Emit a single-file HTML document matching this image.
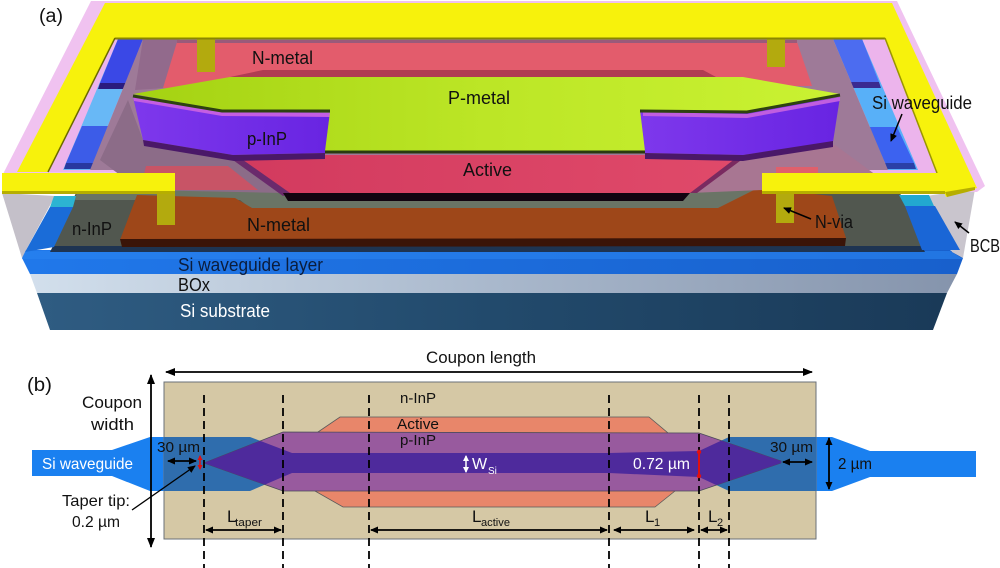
<!DOCTYPE html>
<html><head><meta charset="utf-8"><style>
html,body{margin:0;padding:0;background:#fff;width:1000px;height:568px;overflow:hidden;}
svg{display:block;}
text{font-family:"Liberation Sans",sans-serif;}
</style></head><body>
<svg width="1000" height="568" viewBox="0 0 1000 568" xmlns="http://www.w3.org/2000/svg">
<defs>
 <linearGradient id="gSub" x1="0" y1="0" x2="1" y2="0">
  <stop offset="0" stop-color="#2f5c82"/><stop offset="0.5" stop-color="#224a6c"/><stop offset="1" stop-color="#1a3a58"/>
 </linearGradient>
 <linearGradient id="gBox" x1="0" y1="0" x2="1" y2="0">
  <stop offset="0" stop-color="#d2dfec"/><stop offset="0.5" stop-color="#a9b8cc"/><stop offset="1" stop-color="#8594ac"/>
 </linearGradient>
 <linearGradient id="gSi" x1="0" y1="0" x2="1" y2="0">
  <stop offset="0" stop-color="#2078ea"/><stop offset="1" stop-color="#1860cc"/>
 </linearGradient>
 <linearGradient id="gPm" x1="0" y1="0" x2="1" y2="0">
  <stop offset="0" stop-color="#a4d212"/><stop offset="0.5" stop-color="#bce626"/><stop offset="1" stop-color="#caf232"/>
 </linearGradient>
 <linearGradient id="gAct" x1="0" y1="0" x2="1" y2="0">
  <stop offset="0" stop-color="#d23a5e"/><stop offset="1" stop-color="#e04a6a"/>
 </linearGradient>
 <linearGradient id="gPinP" x1="0" y1="0" x2="1" y2="0">
  <stop offset="0" stop-color="#7e38ec"/><stop offset="1" stop-color="#6824e2"/>
 </linearGradient>
 <marker id="ah" markerWidth="10" markerHeight="8" refX="9" refY="4" orient="auto-start-reverse" markerUnits="userSpaceOnUse">
  <path d="M0,0 L10,4 L0,8 z" fill="#000"/>
 </marker>
 <marker id="ahs" markerWidth="8" markerHeight="7" refX="7" refY="3.5" orient="auto-start-reverse" markerUnits="userSpaceOnUse">
  <path d="M0,0 L8,3.5 L0,7 z" fill="#000"/>
 </marker>
 <marker id="ahw" markerWidth="6" markerHeight="6" refX="5" refY="3" orient="auto-start-reverse" markerUnits="userSpaceOnUse">
  <path d="M0,0 L6,3 L0,6 z" fill="#fff"/>
 </marker>
 <marker id="ahr" markerWidth="5" markerHeight="5" refX="4" refY="2.5" orient="auto-start-reverse" markerUnits="userSpaceOnUse">
  <path d="M0,0 L5,2.5 L0,5 z" fill="#e01010"/>
 </marker>
 <clipPath id="cCoupon"><rect x="164" y="382" width="652" height="157"/></clipPath>
 <clipPath id="cSi"><polygon points="32,450 112,450 150,437 250,437 292,453 609,453 699,451 729,437 832,437 870,451 976,451 976,477 870,477 832,491 729,491 699,477 609,473 292,473 250,491 150,491 112,476 32,476"/></clipPath>
</defs>

<!-- ================= (a) ================= -->
<polygon points="37,293 947,293 933,330 50,330" fill="url(#gSub)"/>
<polygon points="30,274 957,274 947,293 37,293" fill="url(#gBox)"/>
<polygon points="22,258 25,250 950,250 963,258 957,274 30,274" fill="url(#gSi)"/>
<polygon points="25,251 950,251 963,259 22,259" fill="#2a84f0" opacity="0.6"/>

<polygon points="2,193 55,196 25,252 22,258" fill="#c4c0c9"/>
<polygon points="926,196 975,189 963,258 952,252" fill="#c9c5cd"/>

<polygon points="78,188 898,188 922,247 53,247" fill="#51574f"/>
<polygon points="150,188 770,188 730,208 250,208 240,200 75,200 78,188" fill="#6a7466"/>
<polygon points="53,246 922,246 925,252 50,252" fill="#1e3452"/>

<polygon points="54,196 76,196 73,207 50,207" fill="#2cb4d2"/>
<polygon points="50,207 73,207 54,247 25,252" fill="#1a6cd8"/>
<polygon points="899,195 929,195 934,206 905,206" fill="#22a8d0"/>
<polygon points="905,206 935,206 960,250 922,250" fill="#1a66d6"/>

<polygon points="137,195 235,198 252,208 718,208 758,188 832,196 846,238 120,240" fill="#9e4719"/>
<polygon points="120,239 846,238 845,246 122,247" fill="#3a1408"/>

<polygon points="91,1 897,1 985,186 977,192 2,176" fill="#f0c2f0"/>
<polygon points="115,38 885,38 937,173 48,172" fill="#ecb4ec"/>

<polygon points="118,39 143,39 90,170 63,170" fill="#68b8f6"/>
<polygon points="118,39 143,39 126,83 100,83" fill="#3a48e6"/>
<polygon points="100,83 126,83 124,89 98,89" fill="#2a1c7e"/>
<polygon points="82,126 108,126 94,163 66,163" fill="#3c5ce8"/>
<polygon points="66,163 94,163 92,169 64,169" fill="#2838a0"/>

<polygon points="833,39 862,39 918,170 888,170" fill="#58b0f8"/>
<polygon points="833,39 862,39 879,82 851,82" fill="#4c6cf0"/>
<polygon points="851,82 879,82 881,88 853,88" fill="#3a2a90"/>
<polygon points="869,127 897,127 914,163 885,163" fill="#3c62f0"/>
<polygon points="885,163 914,163 916,169 887,169" fill="#2a40a8"/>

<polygon points="143,39 833,39 888,170 90,170" fill="#9e7a98"/>
<polygon points="143,39 180,39 165,88 135,90" fill="#926a8c"/>
<polygon points="128,100 143,140 230,157 283,193 140,190 100,160" fill="#8c6c88"/>
<polygon points="690,193 745,155 835,145 880,178 762,190" fill="#a87692"/>
<polygon points="146,166 228,166 258,190 140,190" fill="#c85466"/>
<polygon points="776,167 818,167 818,175 776,175" fill="#e0606c"/>

<polygon points="177,42 797,42 812,86 163,88" fill="#e35c6c"/>
<polygon points="177,40 797,40 797,43 177,43" fill="#9a5a7a"/>
<polygon points="263,70 703,70 716,77 230,77" fill="#b03c52"/>

<rect x="197" y="38" width="18" height="34" fill="#b3aa0e"/>
<rect x="767" y="38" width="18" height="29" fill="#b3aa0e"/>

<polygon points="228,155 745,155 690,193 283,193" fill="url(#gAct)"/>
<polygon points="226,155 236,155 290,193 283,196" fill="#6a2a6c"/>
<polygon points="740,155 748,155 697,193 690,193" fill="#7a2a60"/>
<polygon points="283,193 690,193 683,201 288,201" fill="#120410"/>

<polygon points="133,97 222,112 330,113 325,153 233,155 143,140" fill="url(#gPinP)"/>
<polygon points="133,97 222,112 330,113 330,117 222,116 134,101" fill="#c45ee2"/>
<polygon points="143,140 233,155 325,153 325,159 234,161 144,146" fill="#4a1868"/>
<polygon points="640,110 747,112 840,97 833,142 743,155 645,153" fill="url(#gPinP)"/>
<polygon points="643,112 747,114 840,97 840,101 747,118 643,116" fill="#c05ee0"/>
<polygon points="645,153 743,155 833,141 833,147 743,161 645,159" fill="#4a1868"/>

<polygon points="133,94 230,77 743,77 840,94 747,111 640,110 645,151 325,151 330,112 222,110" fill="url(#gPm)"/>
<polyline points="133,96 222,111 330,111" fill="none" stroke="#2e4210" stroke-width="3"/>
<polyline points="640,111 747,112 840,95" fill="none" stroke="#2e4210" stroke-width="3"/>
<line x1="325" y1="152" x2="645" y2="152" stroke="#2a3a10" stroke-width="3"/>

<polygon points="105,3 892,3 977,188 946,197 937,173 885,38 115,38 48,172 17,172" fill="#f7f20c"/>
<line x1="115" y1="38.5" x2="885" y2="38.5" stroke="#8a8600" stroke-width="2"/>
<line x1="115" y1="38" x2="48" y2="172" stroke="#6c6a00" stroke-width="1.5"/>
<line x1="885" y1="38" x2="937" y2="173" stroke="#9a9600" stroke-width="1.5"/>

<rect x="2" y="173" width="173" height="19" fill="#f7f20c"/>
<rect x="2" y="191" width="173" height="3" fill="#b6ae00"/>
<rect x="762" y="173" width="183" height="19" fill="#f7f20c"/>
<rect x="762" y="191" width="183" height="3" fill="#b6ae00"/>
<polygon points="945,192 975,187 975,190 947,197" fill="#b6ae00"/>

<rect x="157" y="194" width="18" height="31" fill="#b3aa0e"/>
<rect x="776" y="194" width="18" height="29" fill="#b3aa0e"/>

<text x="39" y="22" font-size="19" textLength="24" lengthAdjust="spacingAndGlyphs" fill="#111">(a)</text>
<text x="252" y="64" font-size="18" textLength="61" lengthAdjust="spacingAndGlyphs" fill="#111">N-metal</text>
<text x="448" y="104" font-size="18" textLength="62" lengthAdjust="spacingAndGlyphs" fill="#111">P-metal</text>
<text x="247" y="145" font-size="18" textLength="40" lengthAdjust="spacingAndGlyphs" fill="#111">p-InP</text>
<text x="463" y="176" font-size="18" textLength="49" lengthAdjust="spacingAndGlyphs" fill="#111">Active</text>
<text x="247" y="231" font-size="18" textLength="63" lengthAdjust="spacingAndGlyphs" fill="#111">N-metal</text>
<text x="72" y="235" font-size="18" textLength="40" lengthAdjust="spacingAndGlyphs" fill="#111">n-InP</text>
<text x="178" y="271" font-size="18" textLength="145" lengthAdjust="spacingAndGlyphs" fill="#0b1d3c">Si waveguide layer</text>
<text x="178" y="291" font-size="18" textLength="32" lengthAdjust="spacingAndGlyphs" fill="#111">BOx</text>
<text x="180" y="317" font-size="18" textLength="90" lengthAdjust="spacingAndGlyphs" fill="#fff">Si substrate</text>
<text x="872" y="109" font-size="18" textLength="100" lengthAdjust="spacingAndGlyphs" fill="#111">Si waveguide</text>
<line x1="902" y1="114" x2="891" y2="141" stroke="#000" stroke-width="1.5" marker-end="url(#ahs)"/>
<text x="815" y="228" font-size="18" textLength="38" lengthAdjust="spacingAndGlyphs" fill="#111">N-via</text>
<line x1="811" y1="219" x2="784" y2="208" stroke="#000" stroke-width="1.5" marker-end="url(#ahs)"/>
<text x="970" y="252" font-size="18" textLength="30" lengthAdjust="spacingAndGlyphs" fill="#111">BCB</text>
<line x1="969" y1="233" x2="955" y2="222" stroke="#000" stroke-width="1.5" marker-end="url(#ahs)"/>

<!-- ================= (b) ================= -->
<polygon points="32,450 112,450 150,437 250,437 292,453 609,453 699,451 729,437 832,437 870,451 976,451 976,477 870,477 832,491 729,491 699,477 609,473 292,473 250,491 150,491 112,476 32,476" fill="#1a80f0"/>
<rect x="164" y="382" width="652" height="157" fill="#d5c8a5" stroke="#6a7078" stroke-width="1"/>
<g clip-path="url(#cCoupon)">
 <polygon points="32,450 112,450 150,437 250,437 292,453 609,453 699,451 729,437 832,437 870,451 976,451 976,477 870,477 832,491 729,491 699,477 609,473 292,473 250,491 150,491 112,476 32,476" fill="#2f6dad"/>
</g>
<polygon points="318,432 340,417 649,417 668,433 675,491 655,507 343,507 315,491" fill="#e8866a" stroke="#5a5a5a" stroke-width="0.8"/>
<polygon points="204,463 283,432 699,433 781,461 781,463 699,491 283,491" fill="#985a9e" stroke="#4a4a5a" stroke-width="0.8"/>
<g clip-path="url(#cSi)">
 <polygon points="204,463 283,432 699,433 781,461 781,463 699,491 283,491" fill="#4e2a9c"/>
</g>

<g stroke="#000" stroke-width="1.8" stroke-dasharray="8,5">
 <line x1="204" y1="395" x2="204" y2="568"/>
 <line x1="283" y1="395" x2="283" y2="568"/>
 <line x1="369" y1="395" x2="369" y2="568"/>
 <line x1="609" y1="395" x2="609" y2="568"/>
 <line x1="699" y1="395" x2="699" y2="568"/>
 <line x1="729" y1="395" x2="729" y2="568"/>
</g>

<g stroke="#000" stroke-width="1.8" fill="none">
 <line x1="166" y1="372" x2="812" y2="372" marker-start="url(#ah)" marker-end="url(#ah)"/>
 <line x1="151" y1="375" x2="151" y2="547" marker-start="url(#ah)" marker-end="url(#ah)"/>
 <line x1="168" y1="461" x2="196" y2="461" marker-start="url(#ahs)" marker-end="url(#ahs)"/>
 <line x1="783" y1="462" x2="812" y2="462" marker-start="url(#ahs)" marker-end="url(#ahs)"/>
 <line x1="829" y1="438" x2="829" y2="489" marker-start="url(#ahs)" marker-end="url(#ahs)"/>
 <line x1="206" y1="530" x2="281" y2="530" marker-start="url(#ahs)" marker-end="url(#ahs)"/>
 <line x1="371" y1="530" x2="607" y2="530" marker-start="url(#ahs)" marker-end="url(#ahs)"/>
 <line x1="614" y1="530" x2="694" y2="530" marker-start="url(#ahs)" marker-end="url(#ahs)"/>
 <line x1="701" y1="530" x2="727" y2="530" marker-start="url(#ahs)" marker-end="url(#ahs)"/>
 <line x1="132" y1="510" x2="195" y2="466" stroke-width="1.3" marker-end="url(#ahs)"/>
</g>
<line x1="200" y1="456" x2="200" y2="469" stroke="#e01010" stroke-width="1.5" marker-start="url(#ahr)" marker-end="url(#ahr)"/>
<line x1="699" y1="452" x2="699" y2="476" stroke="#e01010" stroke-width="2"/>
<circle cx="699" cy="452" r="2.2" fill="#e01010"/>
<circle cx="699" cy="476" r="2.2" fill="#e01010"/>
<line x1="466" y1="456" x2="466" y2="472" stroke="#fff" stroke-width="1.5" marker-start="url(#ahw)" marker-end="url(#ahw)"/>

<text x="27" y="391" font-size="19" textLength="25" lengthAdjust="spacingAndGlyphs" fill="#111">(b)</text>
<text x="82" y="408" font-size="17" textLength="60" lengthAdjust="spacingAndGlyphs" fill="#111">Coupon</text>
<text x="91" y="430" font-size="17" textLength="43" lengthAdjust="spacingAndGlyphs" fill="#111">width</text>
<text x="426" y="363" font-size="17" textLength="110" lengthAdjust="spacingAndGlyphs" fill="#111">Coupon length</text>
<text x="400" y="403" font-size="15" textLength="36" lengthAdjust="spacingAndGlyphs" fill="#111">n-InP</text>
<text x="397" y="429" font-size="15" textLength="42" lengthAdjust="spacingAndGlyphs" fill="#111">Active</text>
<text x="400" y="445" font-size="15" textLength="36" lengthAdjust="spacingAndGlyphs" fill="#111">p-InP</text>
<text x="42" y="469" font-size="16" textLength="91" lengthAdjust="spacingAndGlyphs" fill="#fff">Si waveguide</text>
<text x="157" y="452" font-size="15" textLength="43" lengthAdjust="spacingAndGlyphs" fill="#111">30 µm</text>
<text x="62" y="506" font-size="16" textLength="68" lengthAdjust="spacingAndGlyphs" fill="#111">Taper tip:</text>
<text x="72" y="527" font-size="16" textLength="48" lengthAdjust="spacingAndGlyphs" fill="#111">0.2 µm</text>
<text x="227" y="522" font-size="17" fill="#111">L</text>
<text x="235" y="526" font-size="11" textLength="27" lengthAdjust="spacingAndGlyphs" fill="#111">taper</text>
<text x="472" y="469" font-size="16" fill="#fff">W</text>
<text x="488" y="474" font-size="10" fill="#fff">Si</text>
<text x="472" y="522" font-size="17" fill="#111">L</text>
<text x="481" y="526" font-size="11" textLength="29" lengthAdjust="spacingAndGlyphs" fill="#111">active</text>
<text x="633" y="469" font-size="16" textLength="57" lengthAdjust="spacingAndGlyphs" fill="#fff">0.72 µm</text>
<text x="645" y="522" font-size="17" fill="#111">L</text>
<text x="654" y="526" font-size="11" fill="#111">1</text>
<text x="708" y="522" font-size="17" fill="#111">L</text>
<text x="717" y="526" font-size="11" fill="#111">2</text>
<text x="770" y="452" font-size="15" textLength="43" lengthAdjust="spacingAndGlyphs" fill="#111">30 µm</text>
<text x="838" y="469" font-size="16" textLength="34" lengthAdjust="spacingAndGlyphs" fill="#111">2 µm</text>
</svg>
</body></html>
